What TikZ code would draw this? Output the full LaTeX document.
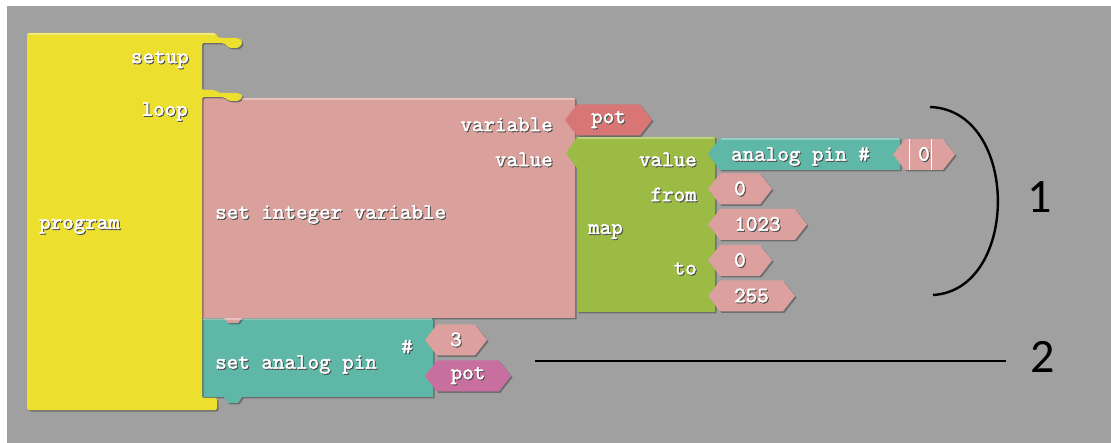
\documentclass[tikz,border=0pt]{standalone}
\usepackage{fontspec}
\setmonofont[AutoFakeBold=2]{lmmono10-regular.otf}
\setsansfont{Carlito}
\usetikzlibrary{shapes.symbols,shadows}

\definecolor{canvas}{HTML}{A0A0A0}
\definecolor{progyellow}{HTML}{ECDF2E}
\definecolor{varpink}{HTML}{D9A09C}
\definecolor{potred}{HTML}{D87676}
\definecolor{mapgreen}{HTML}{9BBB45}
\definecolor{pinteal}{HTML}{5FB7A7}
\definecolor{numpink}{HTML}{DCA19E}
\definecolor{potmagenta}{HTML}{C86FA0}

% white block text with a dark drop shadow
\newcommand\emb[1]{\makebox[0pt][l]{\kern1pt\raisebox{-1pt}{\textcolor{black!70}{#1}}}#1}

\begin{document}
\begin{tikzpicture}[x=1pt,y=-1pt]
\tikzstyle{every node}=[font=\fontsize{22}{24}\selectfont\ttfamily\bfseries, text=white, inner sep=0pt];
\tikzstyle{blk}=[drop shadow={shadow xshift=1.5pt,shadow yshift=-1.5pt,opacity=.6,fill=black!70}];
\tikzstyle{hexblk}=[blk, signal, signal to=west and east, signal pointer angle=104, minimum height=31pt];
\tikzstyle{note}=[font=\fontsize{48}{50}\selectfont\sffamily, text=black];
\tikzstyle{noteline}=[line width=2.4pt, black];

\useasboundingbox (0,0) rectangle (1111,443);
\fill[white] (0,0) rectangle (1111,443);
\fill[canvas] (7,6) rectangle (1111,443);

% statement blocks
\fill[pinteal, blk] (202,318) -- (433,318) -- (433,397) -- (242,397) -- (238,403)
  -- (228,403) -- (224,397) -- (202,397) -- cycle;
\fill[varpink, blk] (202,98) -- (224,98) -- (228,102) -- (238,102) -- (242,98)
  -- (575,98) -- (575,318) -- (242,318) -- (238,323) -- (228,323) -- (224,318)
  -- (202,318) -- cycle;
\fill[progyellow, blk, rounded corners=2pt] (27,33) -- (216,33) -- (218,38) -- (239,38)
  -- (243,42) -- (239,48) -- (229,48) -- (224,43) -- (202,43) -- (202,90) -- (216,90)
  -- (218,93) -- (239,93) -- (243,96) -- (239,101) -- (229,101) -- (224,97)
  -- (202,97) -- (202,398) -- (217,398) -- (217,410) -- (27,410) -- cycle;

% map and analog read
\fill[mapgreen, blk] (577,137) -- (715,137) -- (715,312) -- (577,312) -- (577,168)
  -- (566,153) -- cycle;
\fill[pinteal, blk] (720,138) -- (900,138) -- (900,170) -- (720,170) -- (708,154) -- cycle;

% light top edges
\draw[white, opacity=.35, line width=1.2pt] (28,34) -- (215,34) (242,99) -- (574,99)
  (578,138) -- (714,138) (721,139) -- (899,139) (203,319) -- (432,319);

% labels
\node[anchor=east] (setup) at (189,60) {\emb{setup}};
\node[anchor=east] (loop) at (188,112) {\emb{loop}};
\node[anchor=west] (program) at (39,227) {\emb{program}};
\node[anchor=west] (setint) at (215,215) {\emb{set integer variable}};
\node[anchor=east] (variable) at (553,125) {\emb{variable}};
\node[anchor=east] (value) at (553,160) {\emb{value}};
\node[anchor=east] (mapvalue) at (697,160) {\emb{value}};
\node[anchor=east] (from) at (697,195) {\emb{from}};
\node[anchor=west] (map) at (588,232) {\emb{map}};
\node[anchor=east] (to) at (697,269) {\emb{to}};
\node[anchor=west] (analog) at (731,157) {\emb{analog pin \#}};
\node[anchor=west] (setpin) at (215,365) {\emb{set analog pin}};
\node (hash) at (407,347) {\emb{\#}};

% value blocks
\node[hexblk, fill=potred, minimum width=87pt] (pot) at (608.5,120) {\emb{pot}};
\node[hexblk, fill=numpink, minimum width=62pt] (pin) at (924,154.5) {\emb{0}};
\draw[white, thin] (909,139) -- (909,170) (931,139) -- (931,170);
\node[hexblk, fill=numpink, minimum width=64pt] (fromlow) at (740,189) {\emb{0}};
\node[hexblk, fill=numpink, minimum width=99pt] (fromhigh) at (757.5,224.5) {\emb{1023}};
\node[hexblk, fill=numpink, minimum width=64pt] (tolow) at (740,260.5) {\emb{0}};
\node[hexblk, fill=numpink, minimum width=87pt] (tohigh) at (751.5,296) {\emb{255}};
\node[hexblk, fill=numpink, minimum width=62pt] (pinno) at (456,340) {\emb{3}};
\node[hexblk, fill=potmagenta, minimum width=86pt] (potout) at (468,376) {\emb{pot}};

% callouts
\node[note] (one) at (1040,197) {1};
\node[note] (two) at (1043,357) {2};
\coordinate (bt) at (930,107);
\coordinate (bb) at (933,295);
\coordinate (ls) at (535,361);
\draw[noteline] (bt) .. controls (1020,110) and (1020,290) .. (bb);
\draw[noteline, shorten >=37pt] (ls) -- (ls -| two);
\end{tikzpicture}
\end{document}
